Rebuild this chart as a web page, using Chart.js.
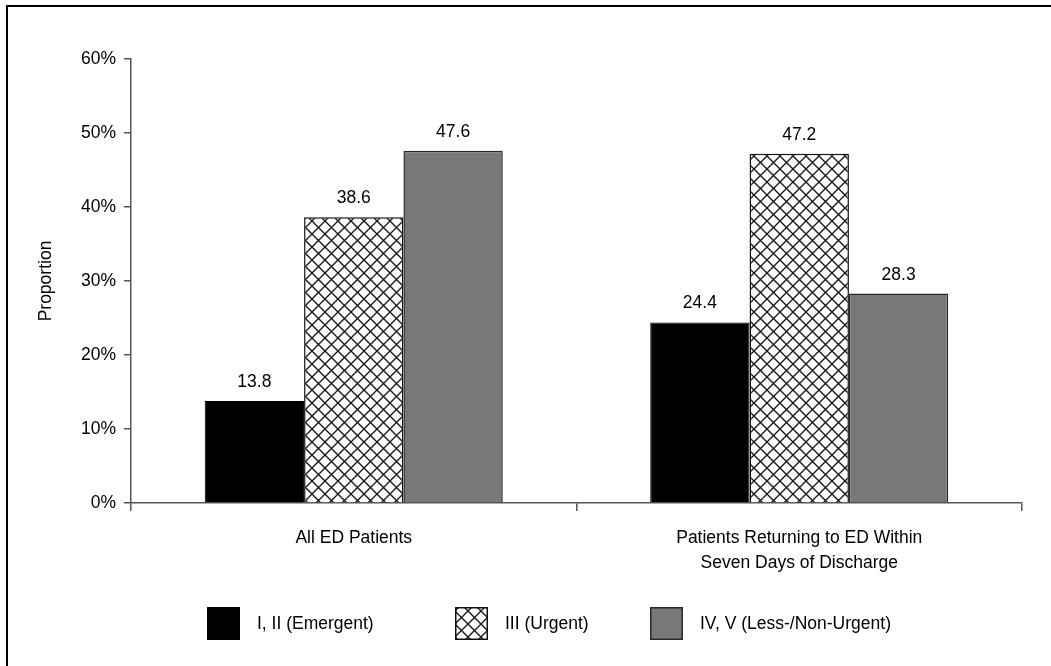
<!DOCTYPE html>
<html>
<head>
<meta charset="utf-8">
<title>ED triage levels</title>
<script src="https://cdn.jsdelivr.net/npm/chart.js@4/dist/chart.umd.min.js"></script>
<style>
  html, body { margin: 0; padding: 0; background: #fff; }
  #wrap { width: 1051px; height: 666px; }
</style>
</head>
<body>
<div id="wrap"><canvas id="myChart" width="1051" height="666"></canvas></div>
<script>
// Triage level share, all ED patients vs. 7-day returns
const categories = ['All ED Patients', ['Patients Returning to ED Within', 'Seven Days of Discharge']];
const seriesNames = ['I, II (Emergent)', 'III (Urgent)', 'IV, V (Less-/Non-Urgent)'];
const emergent = [13.8, 24.4];
const urgent = [38.6, 47.2];
const nonUrgent = [47.6, 28.3];
const yTicks = [0, 10, 20, 30, 40, 50, 60];

const FONT = '"Liberation Sans", Arial, sans-serif';
const FONT_SIZE = 17.5;

// cross-hatch fill for the urgent bars
function makeHatch() {
  const s = 13;
  const c = document.createElement('canvas');
  c.width = s; c.height = s;
  const g = c.getContext('2d');
  g.fillStyle = '#fff';
  g.fillRect(0, 0, s, s);
  g.strokeStyle = '#1a1a1a';
  g.lineWidth = 1.4;
  g.beginPath();
  g.moveTo(-1, -1); g.lineTo(s + 1, s + 1);
  g.moveTo(s + 1, -1); g.lineTo(-1, s + 1);
  g.stroke();
  return g.createPattern(c, 'repeat');
}
const hatch = makeHatch();

// outer frame (top and left edges)
const frame = {
  id: 'frame',
  beforeDraw(chart) {
    const ctx = chart.ctx;
    ctx.save();
    ctx.fillStyle = '#fff';
    ctx.fillRect(0, 0, chart.width, chart.height);
    ctx.fillStyle = '#000';
    ctx.fillRect(6, 5, chart.width - 6, 2);
    ctx.fillRect(6, 5, 2, chart.height - 5);
    ctx.restore();
  }
};

// numbers above each bar
const valueLabels = {
  id: 'valueLabels',
  afterDatasetsDraw(chart) {
    const ctx = chart.ctx;
    ctx.save();
    ctx.font = FONT_SIZE + 'px ' + FONT;
    ctx.fillStyle = '#000';
    ctx.textAlign = 'center';
    ctx.textBaseline = 'alphabetic';
    chart.data.datasets.forEach((ds, i) => {
      chart.getDatasetMeta(i).data.forEach((bar, j) => {
        ctx.fillText(ds.data[j].toFixed(1), bar.x, bar.y - 14);
      });
    });
    ctx.restore();
  }
};

// legend row under the axis
const bottomLegend = {
  id: 'bottomLegend',
  afterDraw(chart) {
    const ctx = chart.ctx;
    const boxX = [207, 455, 650];
    const top = 607, size = 33;
    ctx.save();
    ctx.font = FONT_SIZE + 'px ' + FONT;
    ctx.textBaseline = 'middle';
    ctx.textAlign = 'left';
    chart.data.datasets.forEach((ds, i) => {
      ctx.fillStyle = ds.backgroundColor;
      ctx.fillRect(boxX[i], top, size, size);
      ctx.strokeStyle = ds.borderColor;
      ctx.lineWidth = 1.5;
      ctx.strokeRect(boxX[i] + 0.75, top + 0.75, size - 1.5, size - 1.5);
      ctx.fillStyle = '#000';
      ctx.fillText(ds.label, boxX[i] + 50, top + size / 2 + 1);
    });
    ctx.restore();
  }
};

const ctx = document.getElementById('myChart').getContext('2d');

new Chart(ctx, {
  type: 'bar',
  data: {
    labels: categories,
    datasets: [
      { label: seriesNames[0], data: emergent, backgroundColor: '#000', borderColor: '#000', borderWidth: 1 },
      { label: seriesNames[1], data: urgent, backgroundColor: hatch, borderColor: '#111', borderWidth: 1.5 },
      { label: seriesNames[2], data: nonUrgent, backgroundColor: '#787878', borderColor: '#2a2a2a', borderWidth: 1.5 }
    ]
  },
  options: {
    responsive: false,
    animation: false,
    categoryPercentage: 0.669,
    barPercentage: 1.0,
    layout: { padding: { top: 59, right: 29, bottom: 0, left: 0 } },
    plugins: {
      legend: { display: false },
      tooltip: { enabled: false }
    },
    scales: {
      x: {
        grid: { offset: true, drawOnChartArea: false, tickLength: 8, color: '#555', lineWidth: 1.5 },
        border: { color: '#555', width: 1.5 },
        ticks: { color: '#000', font: { family: FONT, size: FONT_SIZE, lineHeight: 1.45 }, padding: 14, maxRotation: 0 },
        afterFit(scale) { scale.height = 163; }
      },
      y: {
        min: 0,
        max: 60,
        afterBuildTicks(scale) { scale.ticks = yTicks.map(v => ({ value: v })); },
        grid: { drawOnChartArea: false, tickLength: 7, color: '#555', lineWidth: 1.5 },
        border: { color: '#555', width: 1.5 },
        ticks: { color: '#000', font: { family: FONT, size: FONT_SIZE }, padding: 8, callback: v => v + '%' },
        title: {
          display: true,
          text: 'Proportion',
          color: '#000',
          font: { family: FONT, size: FONT_SIZE },
          padding: { top: 36, bottom: 0 }
        },
        afterFit(scale) { scale.width = 131; }
      }
    }
  },
  plugins: [frame, valueLabels, bottomLegend]
});
</script>
</body>
</html>
